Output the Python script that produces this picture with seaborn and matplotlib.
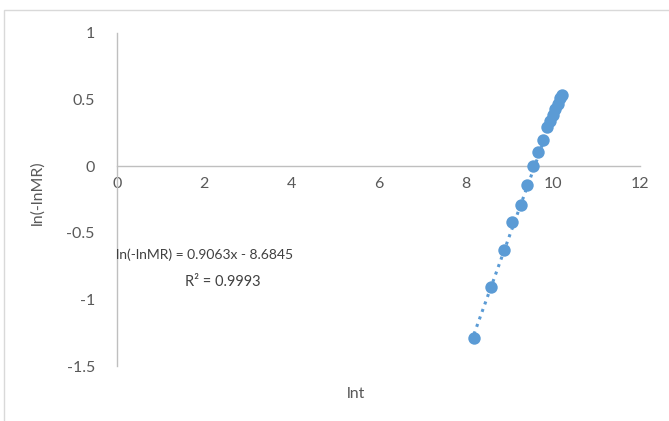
import matplotlib
matplotlib.use("Agg")
import matplotlib.pyplot as plt
from matplotlib.patches import Rectangle
import numpy as np
import pandas as pd
import seaborn as sns

# ln t and ln(-ln MR) values
ln_t = [8.19, 8.58, 8.88, 9.07, 9.26, 9.41, 9.54, 9.65, 9.77, 9.87,
        9.94, 10.00, 10.06, 10.11, 10.16, 10.20]
ln_neg_ln_mr = [-1.29, -0.91, -0.63, -0.42, -0.29, -0.14, 0.005, 0.105, 0.20, 0.295,
                0.34, 0.385, 0.43, 0.47, 0.51, 0.535]

# linear trendline coefficients
slope = 0.9063
intercept = -8.6845
r_squared = 0.9993

x_ticks = [0, 2, 4, 6, 8, 10, 12]
y_ticks = [-1.5, -1, -0.5, 0, 0.5, 1]
y_tick_labels = ["-1.5", "-1", "-0.5", "0", "0.5", "1"]

sns.set_style("white")
plt.rcParams["font.family"] = ["Lato", "DejaVu Sans"]

df = pd.DataFrame({"lnt": ln_t, "y": ln_neg_ln_mr})
blue = "#5B9BD5"
grey_text = "#595959"
axis_grey = "#BFBFBF"

fig = plt.figure(figsize=(6.69, 4.21), dpi=100)
ax = fig.add_axes([117 / 669, 1 - 366 / 421, 523 / 669, 333 / 421])

# dotted trendline from the fitted equation
fit_x = np.array([min(ln_t), max(ln_t)])
fit_y = slope * fit_x + intercept
ax.plot(fit_x, fit_y, linestyle=(0, (1, 1.6)), color=blue, linewidth=2.2, zorder=2)

sns.scatterplot(data=df, x="lnt", y="y", ax=ax, color=blue, s=80,
                edgecolor=blue, linewidth=0, zorder=3, legend=False)

ax.set_xlim(0, 12)
ax.set_ylim(-1.5, 1)
ax.set_xticks(x_ticks)
ax.set_xticklabels([str(v) for v in x_ticks])
ax.set_yticks(y_ticks)
ax.set_yticklabels(y_tick_labels)

for side in ["top", "right"]:
    ax.spines[side].set_visible(False)
ax.spines["bottom"].set_position(("data", 0))
ax.spines["bottom"].set_color(axis_grey)
ax.spines["left"].set_color(axis_grey)
ax.spines["bottom"].set_linewidth(1.0)
ax.spines["left"].set_linewidth(1.0)

ax.tick_params(axis="x", length=0, pad=8, labelsize=11.5, labelcolor=grey_text)
ax.tick_params(axis="y", length=0, pad=16, labelsize=11.5, labelcolor=grey_text)
for lbl in ax.get_yticklabels():
    lbl.set_horizontalalignment("right")

ax.set_xlabel("lnt", fontsize=11.5, color=grey_text)
ax.set_ylabel("ln(-lnMR)", fontsize=11.5, color=grey_text)
ax.xaxis.set_label_coords(0.457, -0.063)
ax.yaxis.set_label_coords(-0.138, 0.52)

# trendline equation
fig.text(116 / 669, 1 - 255 / 421, f"ln(-lnMR) = {slope}x - {abs(intercept)}",
         fontsize=10, color="#404040", ha="left", va="center")
fig.text(185 / 669, 1 - 282 / 421, f"R² = {r_squared}",
         fontsize=10.5, color="#404040", ha="left", va="center")

# chart area border
fig.add_artist(Rectangle((4 / 669, -0.1), 2, 1 - 10 / 421 + 0.1,
                         transform=fig.transFigure, fill=False,
                         edgecolor="#D9D9D9", linewidth=1.0))

fig.savefig("out.png", dpi=100)
